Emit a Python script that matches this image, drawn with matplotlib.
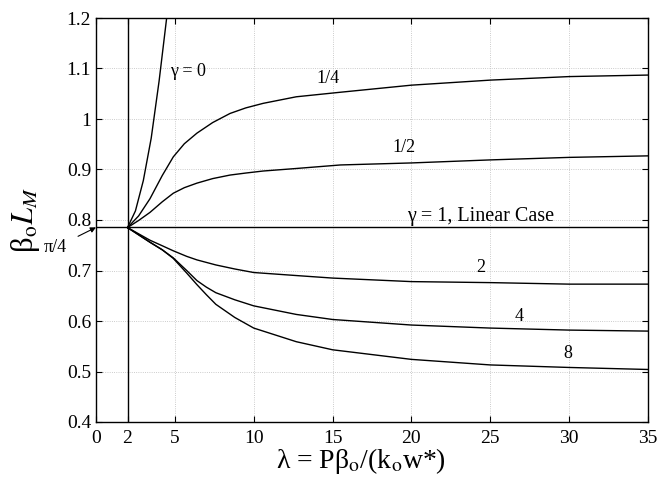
import numpy as np
import matplotlib
matplotlib.use("Agg")
import matplotlib.pyplot as plt

# curves, all start at (2, pi/4)
x_g0 = [2, 2.5, 3.0, 3.5, 4.0, 4.48]
y_g0 = [0.785, 0.818, 0.878, 0.962, 1.075, 1.2]

x_q = [2, 2.7, 3.42, 4.2, 4.9, 5.6, 6.4, 7.4, 8.5, 9.5, 10.6, 12.7, 15.5, 20, 25, 30, 35]
y_g14 = [0.785, 0.808, 0.842, 0.888, 0.925, 0.951, 0.972, 0.993, 1.011, 1.022, 1.031, 1.044, 1.053, 1.067, 1.077, 1.084, 1.087]
y_g12 = [0.785, 0.799, 0.815, 0.836, 0.853, 0.864, 0.873, 0.882, 0.889, 0.893, 0.897, 0.902, 0.909, 0.913, 0.919, 0.924, 0.927]

x_d = [2, 3.42, 4.2, 4.9, 5.75, 6.4, 7.0, 7.6, 8.8, 10, 12.7, 15, 20, 25, 30, 35]
y_g2 = [0.785, 0.760, 0.749, 0.739, 0.728, 0.721, 0.716, 0.711, 0.703, 0.696, 0.690, 0.685, 0.678, 0.676, 0.673, 0.673]
y_g4 = [0.785, 0.756, 0.741, 0.725, 0.700, 0.680, 0.667, 0.656, 0.642, 0.630, 0.613, 0.603, 0.592, 0.586, 0.582, 0.580]
y_g8 = [0.785, 0.756, 0.741, 0.724, 0.695, 0.672, 0.652, 0.633, 0.607, 0.586, 0.559, 0.543, 0.524, 0.513, 0.508, 0.504]

x_ticks = [0, 2, 5, 10, 15, 20, 25, 30, 35]
y_ticks = [0.4, 0.5, 0.6, 0.7, 0.8, 0.9, 1.0, 1.1, 1.2]
y_ticklabels = ["0.4", "0.5", "0.6", "0.7", "0.8", "0.9", "1", "1.1", "1.2"]

# label text and where it sits (data coords)
curve_labels = ["γ = 0", "1/4", "1/2", "γ = 1, Linear Case", "2", "4", "8"]
label_x = [5.85, 14.7, 19.5, 24.4, 24.4, 26.8, 29.9]
label_y = [1.095, 1.081, 0.944, 0.806, 0.705, 0.608, 0.535]
label_size = [13, 13, 13, 14.5, 13, 13, 13]

plt.rcParams['font.family'] = ['Liberation Serif', 'DejaVu Serif']
plt.rcParams['mathtext.fontset'] = 'stix'

fig = plt.figure(figsize=(6.57, 4.90), dpi=100)
ax = fig.add_axes([96 / 657, 1 - 422 / 490, 552 / 657, 404 / 490])

ax.plot(x_g0, y_g0, color='black', lw=1.0)
ax.plot(x_q, y_g14, color='black', lw=1.0)
ax.plot(x_q, y_g12, color='black', lw=1.0)
ax.plot(x_d, y_g2, color='black', lw=1.0)
ax.plot(x_d, y_g4, color='black', lw=1.0)
ax.plot(x_d, y_g8, color='black', lw=1.0)
ax.axhline(np.pi / 4, color='black', lw=1.0)
ax.axvline(2, color='black', lw=1.0)

for t, lx, ly, fs in zip(curve_labels, label_x, label_y, label_size):
    ax.text(lx, ly, t, ha='center', va='center', fontsize=fs)

ax.annotate("π/4", xy=(0, np.pi / 4), xytext=(-2.6, 0.745),
            ha='center', va='center', fontsize=13, annotation_clip=False,
            arrowprops=dict(arrowstyle='-|>', color='black', lw=0.8,
                            mutation_scale=8, shrinkA=7, shrinkB=0))

ax.set_xlim(0, 35)
ax.set_ylim(0.4, 1.2)
ax.set_xticks(x_ticks)
ax.set_yticks(y_ticks)
ax.set_yticklabels(y_ticklabels)
ax.tick_params(direction='in', top=True, right=True, labelsize=14, length=4, width=0.8)
ax.tick_params(axis='x', pad=6)
ax.grid(True, linestyle=':', color='#bbbbbb', lw=0.6)
for s in ax.spines.values():
    s.set_linewidth(1.0)

ax.set_xlabel("λ = Pβ$_{\\rm o}$/(k$_{\\rm o}$w*)", fontsize=20)
ax.xaxis.set_label_coords(0.48, -0.06)
ax.set_ylabel("β$_{\\rm o}$$L_M$", fontsize=22, labelpad=18)

fig.savefig("out.png", dpi=100)
